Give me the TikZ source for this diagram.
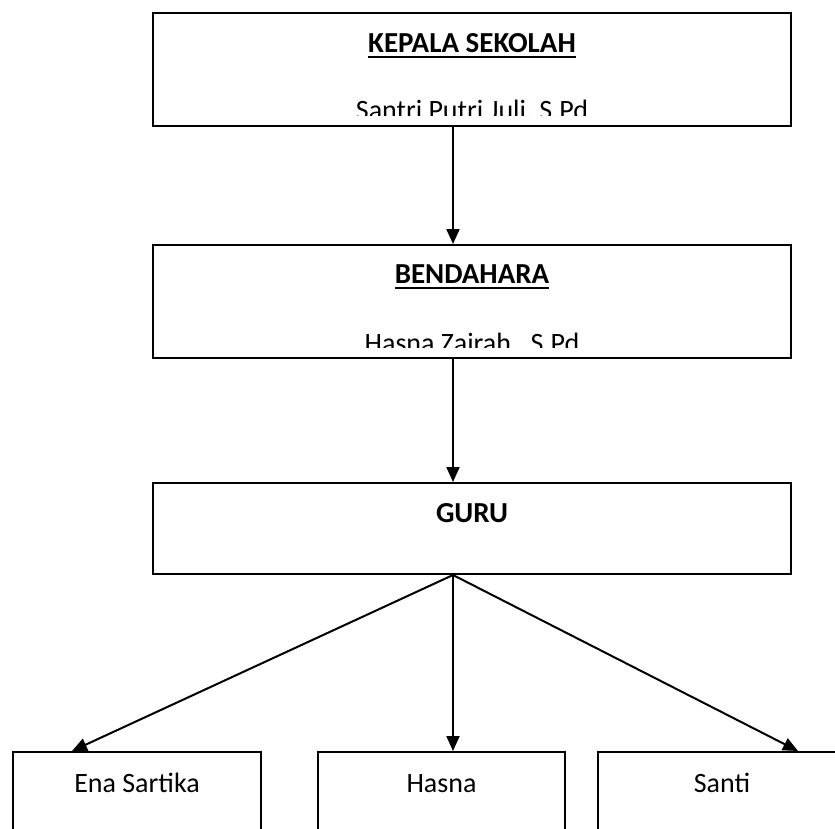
\documentclass[tikz,border=0pt]{standalone}
\usepackage{fontspec}
\setmainfont{Carlito}
\usetikzlibrary{arrows.meta}
\begin{document}
\begin{tikzpicture}[x=1pt,y=-1pt,
  orgbox/.style={draw=black,line width=2pt,fill=white,inner sep=0pt},
  ttltext/.style={font=\fontsize{29}{34}\selectfont\bfseries,inner sep=0pt,anchor=base},
  nmtext/.style={font=\fontsize{28}{33}\selectfont,inner sep=0pt,anchor=base},
  uline/.style={line width=2.6pt},
  conn/.style={line width=2pt,-{Triangle[length=15pt,width=13pt]}}]
\clip (0,0) rectangle (835,828);
\fill[white] (0,0) rectangle (835,828);
% boxes
\node[orgbox,minimum width=638pt,minimum height=113pt] (kepala) at (472,69.5) {};
\node[orgbox,minimum width=638pt,minimum height=113pt] (bendahara) at (472,301.5) {};
\node[orgbox,minimum width=638pt,minimum height=91pt] (guru) at (472,528.5) {};
\node[orgbox,minimum width=248pt,minimum height=110pt] (ena) at (137,807) {};
\node[orgbox,minimum width=247pt,minimum height=110pt] (hasna) at (441.5,807) {};
\node[orgbox,minimum width=248pt,minimum height=110pt] (santi) at (722,807) {};
% titles
\node[ttltext] (t1) at (472,52) {KEPALA SEKOLAH};
\draw[uline] ([yshift=-5pt]t1.base west) -- ([yshift=-5pt]t1.base east);
\node[ttltext] (t2) at (472,283) {BENDAHARA};
\draw[uline] ([yshift=-5pt]t2.base west) -- ([yshift=-5pt]t2.base east);
\node[ttltext] (t3) at (472,522) {GURU};
% clipped names
\begin{scope}
\clip (154,60) rectangle (790,115);
\node[nmtext] (n1) at (472,119) {Santri Putri Juli, S.Pd};
\end{scope}
\begin{scope}
\clip (154,295) rectangle (790,347);
\node[nmtext] (n2) at (472,352) {Hasna Zairah , S.Pd};
\end{scope}
\node[nmtext] (n3) at (137,792) {Ena Sartika};
\node[nmtext] (n4) at (441.5,792) {Hasna};
\node[nmtext] (n5) at (722,792) {Santi};
% connector anchors
\coordinate (kb) at ([xshift=-19pt]kepala.south);
\coordinate (bt) at ([xshift=-19pt]bendahara.north);
\coordinate (bb) at ([xshift=-19pt]bendahara.south);
\coordinate (gt) at ([xshift=-19pt]guru.north);
\coordinate (gb) at ([xshift=-19pt]guru.south);
\coordinate (et) at ([xshift=-65pt]ena.north);
\coordinate (ht) at ([xshift=11.5pt]hasna.north);
\coordinate (st) at ([xshift=76pt]santi.north);
\draw[conn] (kb) -- (bt);
\draw[conn] (bb) -- (gt);
\draw[conn] (gb) -- (et);
\draw[conn] (gb) -- (ht);
\draw[conn] (gb) -- (st);
\end{tikzpicture}
\end{document}
